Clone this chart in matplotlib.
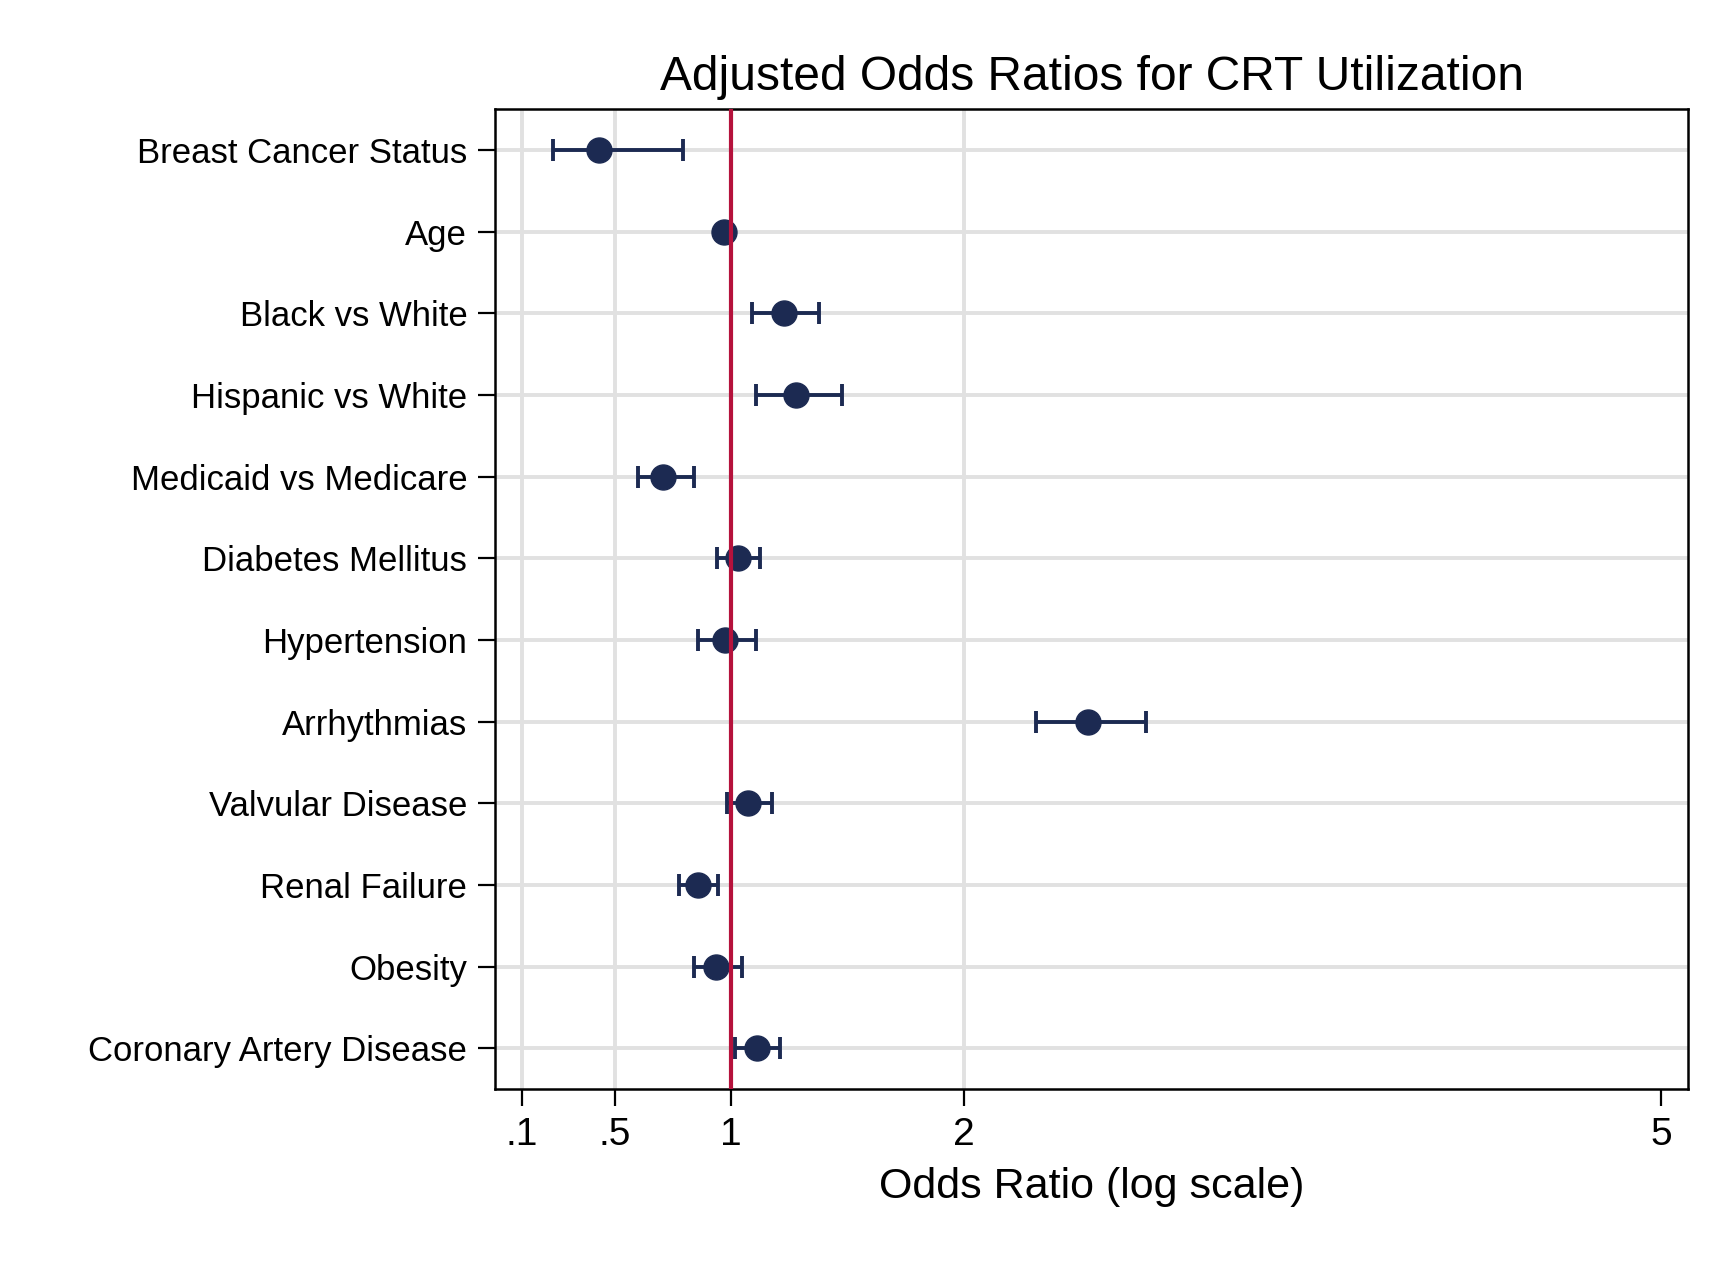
import numpy as np
import matplotlib
matplotlib.use("Agg")
import matplotlib.pyplot as plt

plt.rcParams['font.family'] = ['Liberation Sans', 'DejaVu Sans']

# odds ratios and 95% CI
labels = ["Breast Cancer Status", "Age", "Black vs White", "Hispanic vs White",
          "Medicaid vs Medicare", "Diabetes Mellitus", "Hypertension", "Arrhythmias",
          "Valvular Disease", "Renal Failure", "Obesity", "Coronary Artery Disease"]
odds = [0.434, 0.969, 1.228, 1.278, 0.709, 1.029, 0.974, 2.537, 1.074, 0.857, 0.937, 1.110]
ci_lo = [0.236, 0.966, 1.092, 1.106, 0.599, 0.941, 0.857, 2.312, 0.984, 0.778, 0.841, 1.017]
ci_hi = [0.792, 0.972, 1.380, 1.476, 0.842, 1.125, 1.108, 2.784, 1.175, 0.943, 1.046, 1.211]

xticks = [0.1, 0.5, 1, 2, 5]
xtick_labels = [".1", ".5", "1", "2", "5"]
grid_x = [0.1, 0.5, 1, 2]

navy = "#1c2a52"
red = "#b5123c"
grid_col = "#e1e1e1"

fig = plt.figure(figsize=(17.34, 12.62), dpi=100)
ax = fig.add_axes([0.2855, 0.1371, 0.688, 0.7763])

y = np.arange(1, len(labels) + 1)
odds = np.array(odds)
lo = odds - np.array(ci_lo)
hi = np.array(ci_hi) - odds

for yy in y:
    ax.axhline(yy, color=grid_col, lw=2.8, zorder=0)
for gx in grid_x:
    ax.axvline(gx, color=grid_col, lw=2.8, zorder=0)

ax.errorbar(odds, y, xerr=[lo, hi], fmt='o', color=navy, ms=18, elinewidth=2.8,
            capsize=8, capthick=2.8, zorder=3)
ax.axvline(1, color=red, lw=3, zorder=4)

ax.set_xlim(-0.015, 5.116)
ax.set_ylim(12.5, 0.5)
ax.set_yticks(y)
ax.set_yticklabels(labels, fontsize=25)
ax.set_xticks(xticks)
ax.set_xticklabels(xtick_labels, fontsize=28)
ax.tick_params(axis='both', length=12, width=1.6, color='black')
ax.tick_params(axis='y', pad=8)
ax.tick_params(axis='x', pad=8)

for s in ax.spines.values():
    s.set_linewidth(1.8)
    s.set_color('black')

ax.set_xlabel("Odds Ratio (log scale)", fontsize=31, labelpad=10)
ax.set_title("Adjusted Odds Ratios for CRT Utilization", fontsize=34.5, pad=14)

fig.savefig("out.png", dpi=100, facecolor='white')
